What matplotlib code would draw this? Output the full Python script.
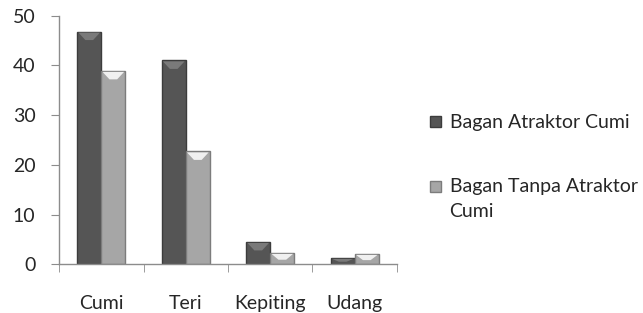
import matplotlib

matplotlib.use("Agg")
import matplotlib.pyplot as plt
import numpy as np
from matplotlib.legend_handler import HandlerPatch
from matplotlib.patches import Polygon, Rectangle

categories = ["Cumi", "Teri", "Kepiting", "Udang"]
series_names = ["Bagan Atraktor Cumi", "Bagan Tanpa Atraktor\nCumi"]
atraktor = [46.8, 41.0, 4.5, 1.3]
tanpa_atraktor = [38.9, 22.7, 2.3, 2.1]
y_ticks = [0, 10, 20, 30, 40, 50]

plt.rcParams["font.family"] = ["Lato", "DejaVu Sans"]
FS = 14

fig = plt.figure(figsize=(6.43, 3.13), dpi=100)
ax = fig.add_axes([0.0918, 0.1556, 0.5256, 0.7944])

x = np.arange(len(categories))
w = 0.285
b1 = ax.bar(x - w / 2, atraktor, w, color="#555555", edgecolor="#3c3c3c", linewidth=1.0)
b2 = ax.bar(x + w / 2, tanpa_atraktor, w, color="#a6a6a6", edgecolor="#7c7c7c", linewidth=1.0)

ax.set_xlim(-0.5, len(categories) - 0.5)
ax.set_ylim(0, 50)

# bevel "chevron" highlight on top of each bar
px_per_unit = ax.get_window_extent().height / 50.0
for bars, shade in [(b1, "#7a7a7a"), (b2, "#f0f0f0")]:
    for r in bars:
        x0, bw, top = r.get_x(), r.get_width(), r.get_height()
        h = min(8.5 / px_per_unit, 0.6 * top)
        inset = 0.05 * bw
        pts = [(x0 + inset, top - 0.2), (x0 + bw - inset, top - 0.2),
               (x0 + 0.66 * bw, top - h), (x0 + 0.34 * bw, top - h)]
        ax.add_patch(Polygon(pts, closed=True, facecolor=shade, edgecolor="none", zorder=3))

ax.set_yticks(y_ticks)
ax.set_xticks(x)
ax.set_xticklabels(categories)
ax.set_xticks(np.arange(len(categories) + 1) - 0.5, minor=True)

for side in ["top", "right"]:
    ax.spines[side].set_visible(False)
for side in ["left", "bottom"]:
    ax.spines[side].set_color("#8c8c8c")
    ax.spines[side].set_linewidth(1.0)

ax.tick_params(axis="y", length=6, color="#8c8c8c", labelsize=FS, labelcolor="#262626", pad=11)
ax.tick_params(axis="x", which="major", length=0, labelsize=FS, labelcolor="#262626", pad=22)
ax.tick_params(axis="x", which="minor", length=6, color="#8c8c8c")


def square_first_line(shift_pts):
    def make(legend, orig_handle, xdescent, ydescent, width, height, fontsize):
        side = min(width, height)
        return Rectangle((-xdescent, -ydescent + (height - side) / 2 + shift_pts), side, side)
    return make


h1, h2 = b1.patches[0], b2.patches[0]
leg = fig.legend(
    handles=[h1, h2],
    labels=series_names,
    loc="upper left",
    bbox_to_anchor=(0.669, 0.635),
    frameon=False,
    fontsize=FS,
    handlelength=0.55,
    handleheight=0.55,
    handletextpad=0.45,
    labelspacing=2.4,
    borderpad=0,
    borderaxespad=0,
    labelcolor="#262626",
    handler_map={
        h1: HandlerPatch(patch_func=square_first_line(0)),
        h2: HandlerPatch(patch_func=square_first_line(9)),
    },
)
for t in leg.get_texts():
    t.set_linespacing(1.55)

fig.savefig("out.png", dpi=100)
